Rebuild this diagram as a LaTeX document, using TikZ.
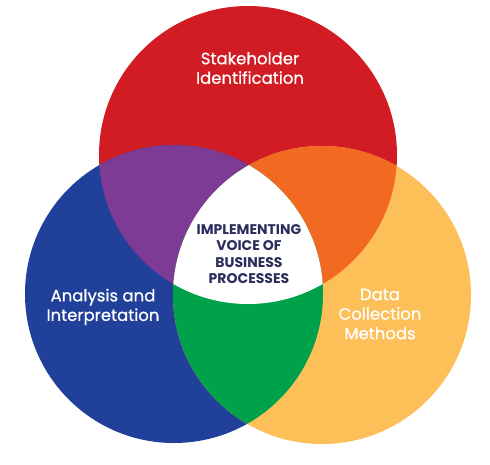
\documentclass[tikz,border=0pt]{standalone}
\usepackage{fontspec}
\setmainfont{Poppins}
\newfontfamily\medfont[FakeBold=0.6]{Poppins}
\definecolor{cred}{HTML}{D21C24}
\definecolor{cblue}{HTML}{21409A}
\definecolor{cyellow}{HTML}{FDBF57}
\definecolor{cpurple}{HTML}{7E3B96}
\definecolor{corange}{HTML}{F26922}
\definecolor{cgreen}{HTML}{00A14B}
\definecolor{cnavy}{HTML}{2B2D5C}
\tikzset{
  lbl/.style={text=white, font=\medfont\fontsize{16.5}{19.5}\selectfont, align=center, inner sep=0pt},
  ctr/.style={text=cnavy, font=\bfseries\fontsize{14}{16.5}\selectfont, align=center, inner sep=0pt}
}
\begin{document}
\begin{tikzpicture}[x=1pt,y=-1pt]
\useasboundingbox (0,0) rectangle (490,464);
\fill[white] (0,0) rectangle (490,464);
\def\R{149}
\coordinate (cr) at (248,155);
\coordinate (cb) at (174,294);
\coordinate (cy) at (322,295);
\fill[cred] (cr) circle[radius=\R];
\fill[cblue] (cb) circle[radius=\R];
\fill[cyellow] (cy) circle[radius=\R];
\begin{scope}
  \clip (cr) circle[radius=\R];
  \fill[cpurple] (cb) circle[radius=\R];
  \fill[corange] (cy) circle[radius=\R];
\end{scope}
\begin{scope}
  \clip (cb) circle[radius=\R];
  \fill[cgreen] (cy) circle[radius=\R];
  \clip (cr) circle[radius=\R];
  \fill[white] (cy) circle[radius=\R];
\end{scope}
\node[lbl] (stake) at (250,68) {Stakeholder\\Identification};
\node[lbl] (anal) at (103,307) {Analysis and\\Interpretation};
\node[lbl] (data) at (380,314) {Data\\Collection\\Methods};
\node[ctr] (center) at (249,254) {IMPLEMENTING\\VOICE OF\\BUSINESS\\PROCESSES};
\end{tikzpicture}
\end{document}
